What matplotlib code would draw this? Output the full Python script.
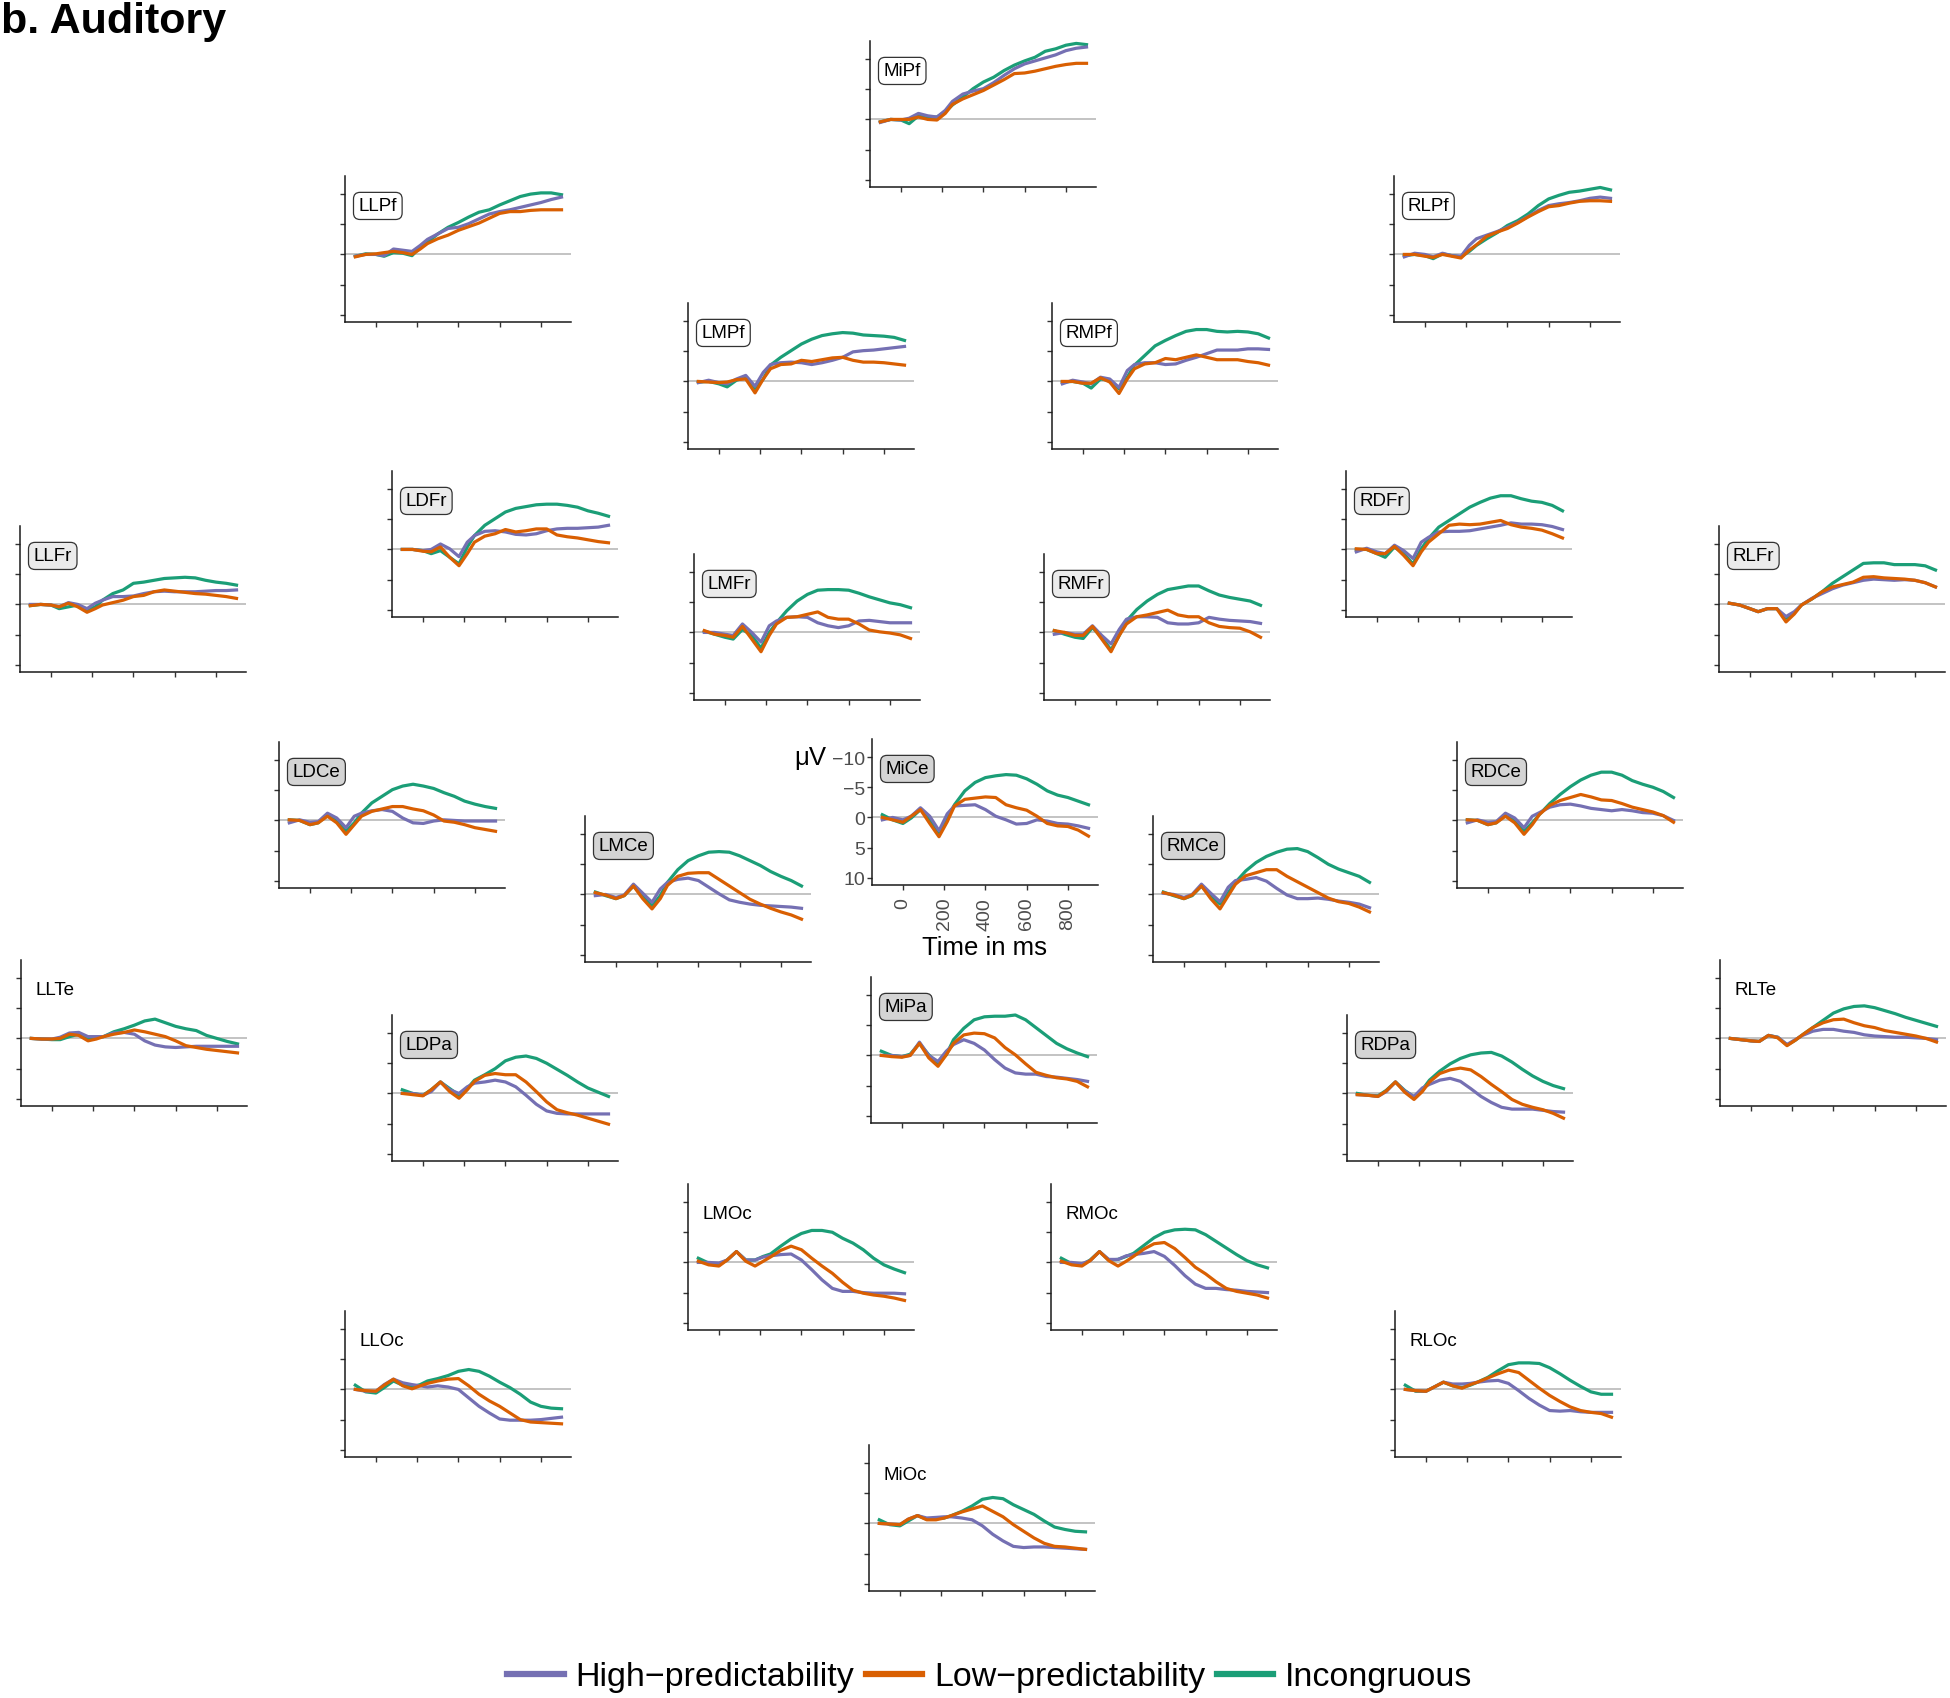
import matplotlib
matplotlib.use("Agg")
import matplotlib.pyplot as plt
from matplotlib.lines import Line2D

plt.rcParams["font.family"] = ["Liberation Sans", "DejaVu Sans"]

# -----------------------------------------------------------------------------
# Data: grand-average ERPs (µV)
# -----------------------------------------------------------------------------
TIME = [-100, -50, 0, 40, 85, 130, 175, 215, 250, 300, 350, 400,
        450, 500, 550, 600, 650, 700, 750, 800, 850, 900]

CONDITIONS = ["High\u2212predictability", "Low\u2212predictability", "Incongruous"]

MiPf_high = [0.5, 0, 0.1, -0.2, -1.0, -0.6, -0.4, -1.5, -3.0, -4.2, -4.7, -5.1, -6.1, -7.3, -8.4, -9.2, -9.7, -10.2, -10.7, -11.4, -11.8, -12.0]
MiPf_low = [0.4, 0, 0, 0, -0.4, 0, 0.1, -1.0, -2.5, -3.4, -4.1, -4.8, -5.7, -6.6, -7.6, -7.7, -8.0, -8.4, -8.8, -9.1, -9.3, -9.3]
MiPf_inc = [0.4, 0, 0.1, 0.7, -0.6, -0.3, -0.4, -1.3, -2.4, -3.7, -5.1, -6.2, -7.0, -8.1, -9.0, -9.7, -10.3, -11.3, -11.7, -12.3, -12.6, -12.4]

LLPf_high = [0.3, 0, 0, 0.2, -0.9, -0.7, -0.5, -1.5, -2.5, -3.4, -4.3, -4.5, -5.1, -5.9, -6.7, -7.1, -7.4, -7.8, -8.2, -8.6, -9.1, -9.5]
LLPf_low = [0.4, 0, -0.1, -0.3, -0.5, -0.3, 0, -0.9, -1.8, -2.6, -3.2, -4.0, -4.6, -5.2, -6.0, -6.8, -7.1, -7.1, -7.3, -7.4, -7.4, -7.4]
LLPf_inc = [0.3, -0.1, 0, 0.3, -0.3, -0.2, 0.2, -1.2, -2.0, -3.4, -4.5, -5.3, -6.2, -7.0, -7.4, -8.2, -8.9, -9.6, -10.0, -10.2, -10.2, -9.9]

RLPf_high = [0.4, -0.2, 0, 0.4, -0.2, 0.2, 0.3, -1.5, -2.6, -3.2, -3.8, -4.5, -5.3, -6.3, -7.3, -8.1, -8.4, -8.6, -8.9, -9.3, -9.5, -9.3]
RLPf_low = [0, 0, 0.3, 0.5, 0, 0.3, 0.6, -0.7, -1.6, -3.0, -3.7, -4.3, -5.2, -6.2, -7.1, -7.9, -8.1, -8.5, -8.8, -8.9, -8.9, -8.8]
RLPf_inc = [0.2, 0, 0.2, 0.7, -0.1, 0.2, 0.4, -0.5, -1.5, -2.6, -3.6, -4.8, -5.6, -6.7, -8.1, -9.2, -9.8, -10.3, -10.5, -10.8, -11.1, -10.7]

LMPf_high = [0.2, -0.2, 0.2, 0.4, -0.4, -1.0, 0.8, -1.5, -2.8, -3.1, -3.2, -3.1, -2.8, -3.1, -3.5, -4.0, -4.9, -5.1, -5.2, -5.4, -5.6, -5.8]
LMPf_low = [0, 0.1, 0.2, 0.1, -0.3, -0.4, 1.9, -0.4, -2.1, -2.8, -2.9, -3.5, -3.3, -3.6, -3.9, -4.0, -3.5, -3.2, -3.2, -3.1, -2.9, -2.7]
LMPf_inc = [0.1, 0, 0.4, 0.9, -0.2, -0.7, 1.2, -0.4, -2.7, -4.0, -5.1, -6.2, -7.0, -7.6, -7.9, -8.1, -8.0, -7.7, -7.6, -7.5, -7.3, -6.8]

RMPf_high = [0.4, -0.2, 0.1, 0.4, -0.7, -0.4, 1.0, -1.8, -2.8, -3.1, -3.1, -2.8, -2.9, -3.5, -4.0, -4.6, -5.2, -5.2, -5.2, -5.4, -5.4, -5.3]
RMPf_low = [0, 0, 0.3, 0.3, -0.6, 0.1, 2.0, -0.4, -2.1, -2.9, -3.1, -3.8, -3.6, -4.0, -4.4, -4.0, -3.6, -3.6, -3.6, -3.3, -3.1, -2.7]
RMPf_inc = [0.1, 0, 0.3, 1.1, -0.4, -0.2, 1.2, -0.7, -2.7, -4.3, -5.9, -6.8, -7.6, -8.3, -8.6, -8.6, -8.3, -8.2, -8.3, -8.2, -7.9, -7.2]

LLFr_high = [0, 0, 0.1, 0.4, -0.3, 0, 0.7, -0.2, -0.7, -1.3, -1.3, -1.4, -1.8, -2.1, -2.2, -2.1, -2.1, -2.1, -2.2, -2.3, -2.3, -2.4]
LLFr_low = [0.2, 0, 0.1, 0.4, -0.2, 0.4, 1.3, 0.7, 0.1, -0.3, -0.7, -1.3, -1.5, -2.1, -2.4, -2.2, -2.0, -1.8, -1.7, -1.5, -1.3, -1.0]
LLFr_inc = [0.2, 0, 0.1, 0.7, 0.4, 0.1, 0.9, 0.4, -0.7, -1.8, -2.4, -3.5, -3.7, -4.0, -4.3, -4.4, -4.5, -4.4, -4.0, -3.7, -3.5, -3.2]

LDFr_high = [0, 0, 0.2, 0, -0.9, -0.1, 1.2, -1.2, -2.3, -3.0, -3.1, -2.9, -2.5, -2.4, -2.6, -3.1, -3.4, -3.5, -3.5, -3.6, -3.7, -4.0]
LDFr_low = [0, 0, 0.3, 0.4, -0.4, 1.3, 2.7, 0.7, -1.2, -2.2, -2.6, -3.3, -2.9, -3.1, -3.4, -3.4, -2.4, -2.1, -1.9, -1.6, -1.3, -1.1]
LDFr_inc = [0, 0, 0.2, 0.7, 0.2, 1.3, 2.4, -0.4, -2.3, -4.0, -5.1, -6.2, -6.8, -7.1, -7.4, -7.5, -7.5, -7.3, -7.0, -6.4, -6.0, -5.5]

RDFr_high = [0.4, -0.2, 0.4, 0.7, -0.7, 0.2, 1.5, -1.2, -2.0, -2.9, -3.0, -3.0, -3.1, -3.4, -3.7, -4.0, -4.4, -4.2, -4.2, -4.1, -3.8, -3.3]
RDFr_low = [-0.1, 0, 0.7, 0.7, -0.5, 1.0, 2.7, 0.4, -1.2, -2.6, -4.0, -4.2, -4.1, -4.2, -4.5, -4.8, -4.1, -3.7, -3.5, -3.2, -2.6, -1.9]
RDFr_inc = [0, 0, 0.7, 1.3, -0.4, 0.7, 2.4, -0.1, -1.8, -3.7, -4.8, -5.9, -7.0, -7.8, -8.5, -8.9, -8.9, -8.4, -8.0, -7.8, -7.3, -6.4]

RLFr_high = [-0.2, 0.1, 0.7, 1.2, 0.7, 0.7, 2.0, 1.2, 0.1, -1.0, -1.8, -2.6, -3.2, -3.6, -4.0, -4.2, -4.1, -4.0, -4.1, -4.0, -3.6, -2.9]
RLFr_low = [-0.2, 0.1, 0.7, 1.2, 0.7, 0.7, 2.9, 1.6, 0.1, -0.9, -2.1, -2.9, -3.3, -3.7, -4.5, -4.6, -4.4, -4.3, -4.2, -4.0, -3.6, -2.9]
RLFr_inc = [-0.2, 0.1, 0.7, 1.2, 0.7, 0.7, 2.3, 1.4, 0.1, -0.9, -2.1, -3.5, -4.6, -5.7, -6.8, -6.9, -6.9, -6.6, -6.6, -6.6, -6.4, -5.7]

LMFr_high = [0, 0, 0.3, 0.5, -1.4, 0, 1.6, -1.1, -1.9, -2.5, -2.6, -2.5, -1.6, -1.1, -0.8, -1.1, -1.9, -2.0, -1.8, -1.6, -1.6, -1.6]
LMFr_low = [-0.3, 0.3, 0.5, 0.8, -1.0, 1.1, 3.2, 0.5, -1.4, -2.5, -2.6, -3.0, -3.4, -2.5, -2.2, -2.2, -1.4, -0.4, -0.1, 0.1, 0.4, 1.0]
LMFr_inc = [-0.2, 0.3, 0.8, 1.1, -0.5, 0.5, 2.6, 0, -1.6, -3.6, -5.2, -6.3, -7.0, -7.1, -7.1, -7.0, -6.5, -5.9, -5.4, -4.9, -4.6, -4.1]

RMFr_high = [0.3, 0, 0.3, 0.3, -1.1, 0.5, 1.9, -0.5, -2.2, -2.6, -2.6, -2.5, -1.6, -1.4, -1.4, -1.6, -2.5, -2.2, -2.0, -1.9, -1.8, -1.5]
RMFr_low = [-0.3, 0, 0.5, 0.5, -1.0, 1.1, 3.2, 0.5, -1.4, -2.6, -2.9, -3.3, -3.7, -2.9, -2.6, -2.6, -1.6, -1.0, -0.8, -0.7, -0.1, 0.8]
RMFr_inc = [-0.3, 0.3, 0.8, 1.0, -0.8, 0.8, 2.9, 0.5, -1.9, -3.8, -5.2, -6.3, -7.1, -7.4, -7.7, -7.7, -6.9, -6.2, -5.8, -5.5, -5.2, -4.5]

LDCe_high = [0.4, -0.1, 0.3, 0.2, -1.2, -0.4, 1.2, -0.7, -1.2, -1.6, -1.8, -1.5, -0.4, 0.4, 0.5, 0.1, -0.1, 0, 0.1, 0.1, 0.1, 0.1]
LDCe_low = [-0.1, 0, 0.7, 0.4, -0.7, 0.4, 2.3, 0.7, -0.7, -1.5, -1.9, -2.3, -2.3, -1.9, -1.6, -0.9, 0.1, 0.3, 0.7, 1.2, 1.5, 1.8]
LDCe_inc = [-0.1, 0, 0.7, 0.4, -0.9, -0.1, 1.8, 0.4, -1.2, -2.9, -4.0, -5.1, -5.7, -6.0, -5.7, -5.3, -4.6, -4.0, -3.2, -2.7, -2.3, -2.0]

RDCe_high = [0.4, -0.1, 0.3, 0.2, -1.2, -0.4, 1.2, -0.7, -1.3, -2.2, -2.6, -2.7, -2.4, -2.0, -1.8, -1.6, -1.8, -1.6, -1.3, -1.2, -0.8, 0.0]
RDCe_low = [-0.1, 0, 0.7, 0.4, -0.7, 0.4, 2.3, 0.7, -1.0, -2.5, -3.3, -3.8, -4.3, -3.9, -3.4, -3.3, -2.8, -2.2, -1.8, -1.4, -0.8, 0.3]
RDCe_inc = [-0.1, 0, 0.7, 0.4, -0.9, -0.1, 1.8, 0.4, -1.0, -2.8, -4.3, -5.6, -6.7, -7.5, -8.0, -8.0, -7.5, -6.6, -6.0, -5.5, -4.8, -3.8]

MiCe_high = [0.4, 0, 0.4, -0.2, -1.6, -0.2, 2.2, -0.6, -1.9, -2.0, -2.1, -1.3, -0.2, 0.4, 1.1, 1.0, 0.4, 0.6, 1.0, 1.1, 1.4, 1.8]
MiCe_low = [0, 0.4, 0.8, -0.2, -1.3, 1.0, 3.2, 0.7, -1.9, -3.0, -3.2, -3.4, -3.3, -2.1, -1.6, -1.2, -0.2, 1.0, 1.4, 1.5, 2.1, 3.1]
MiCe_inc = [-0.45, 0.4, 1.0, 0.1, -1.3, 0.4, 2.6, 0.1, -2.1, -4.4, -5.8, -6.6, -6.9, -7.1, -7.0, -6.4, -5.5, -4.4, -3.7, -3.3, -2.7, -2.1]

LMCe_high = [0.2, 0, 0.5, 0.1, -1.7, -0.2, 1.3, -0.9, -2.0, -2.5, -2.7, -2.3, -1.2, -0.1, 0.9, 1.3, 1.6, 1.8, 1.9, 2.0, 2.1, 2.3]
LMCe_low = [-0.3, 0.1, 0.7, 0.2, -1.4, 0.7, 2.4, 0.7, -1.5, -3.0, -3.5, -3.6, -3.6, -2.5, -1.4, -0.3, 0.8, 1.6, 2.3, 2.9, 3.4, 4.1]
LMCe_inc = [-0.4, 0.2, 0.7, 0.2, -1.4, 0.2, 1.9, 0.2, -2.0, -4.1, -5.6, -6.4, -7.0, -7.1, -7.0, -6.4, -5.6, -4.8, -3.8, -3.0, -2.3, -1.4]

RMCe_high = [-0.2, 0, 0.5, 0, -1.7, -0.2, 1.2, -1.2, -2.3, -2.5, -2.8, -2.2, -1.0, 0.1, 0.7, 0.7, 0.6, 0.8, 1.1, 1.3, 1.6, 2.2]
RMCe_low = [-0.3, 0.1, 0.7, 0.1, -1.4, 0.7, 2.4, 0.2, -1.7, -3.1, -3.6, -4.1, -4.1, -3.0, -2.1, -1.2, -0.3, 0.6, 1.2, 1.5, 2.1, 2.9]
RMCe_inc = [-0.4, 0.2, 0.7, 0.2, -1.4, 0.2, 1.6, -0.3, -2.0, -3.9, -5.3, -6.3, -7.0, -7.5, -7.6, -7.1, -6.1, -5.0, -4.2, -3.6, -3.0, -2.0]

LLTe_high = [0, 0.1, 0.1, -0.2, -0.9, -1.0, -0.3, -0.3, -0.3, -0.9, -1.0, -0.7, 0.4, 1.1, 1.4, 1.5, 1.4, 1.3, 1.3, 1.3, 1.3, 1.3]
LLTe_low = [0, 0.1, 0.1, 0, -0.7, -0.5, 0.4, 0.1, -0.3, -0.7, -1.0, -1.4, -1.1, -0.7, -0.3, 0.4, 1.2, 1.5, 1.8, 2.0, 2.2, 2.4]
LLTe_inc = [0, 0.1, 0.2, 0.2, -0.3, -0.7, 0.1, -0.2, -0.3, -1.1, -1.6, -2.2, -2.9, -3.2, -2.6, -2.0, -1.6, -1.3, -0.5, 0, 0.5, 0.9]

RLTe_high = [0, 0.2, 0.4, 0.5, -0.5, -0.2, 1.0, 0.2, -0.5, -1.2, -1.5, -1.5, -1.2, -1.0, -0.6, -0.4, -0.3, -0.2, -0.2, -0.1, 0, 0.2]
RLTe_low = [0, 0.2, 0.4, 0.5, -0.5, -0.1, 1.2, 0.3, -0.6, -1.8, -2.6, -3.1, -3.2, -2.6, -2.1, -1.8, -1.3, -1.0, -0.7, -0.4, 0, 0.6]
RLTe_inc = [0, 0.2, 0.4, 0.5, -0.5, -0.2, 1.1, 0.3, -0.6, -1.8, -3.0, -4.2, -4.9, -5.3, -5.4, -5.1, -4.6, -4.1, -3.5, -3.0, -2.5, -2.0]

LDPa_high = [0, 0, 0.3, -0.3, -1.9, -0.6, 0, -1.1, -1.7, -1.9, -2.2, -1.9, -1.1, 0.3, 1.8, 2.9, 3.3, 3.4, 3.4, 3.4, 3.4, 3.4]
LDPa_low = [0, 0.2, 0.4, -0.6, -1.9, -0.3, 0.8, -0.6, -2.0, -3.0, -3.3, -3.1, -3.1, -1.9, -0.3, 1.4, 2.7, 3.2, 3.6, 4.1, 4.6, 5.1]
LDPa_inc = [-0.6, 0, 0.3, -0.6, -1.9, -0.8, 0.3, -0.8, -2.2, -3.1, -4.1, -5.4, -6.0, -6.2, -5.8, -5.0, -4.0, -3.0, -1.9, -0.9, -0.2, 0.5]

MiPa_high = [0, 0, 0.2, 0, -2.2, 0, 1.0, -0.7, -1.8, -2.6, -2.0, -0.9, 0.7, 2.1, 2.9, 3.1, 3.1, 3.5, 3.6, 3.8, 4.0, 4.3]
MiPa_low = [0, 0.2, 0.3, 0, -2.0, 0.4, 1.8, -0.1, -2.0, -3.4, -3.7, -3.6, -2.9, -1.3, -0.1, 1.4, 2.8, 3.3, 3.7, 3.9, 4.3, 5.2]
MiPa_inc = [-0.7, 0, 0.2, -0.2, -2.0, -0.1, 1.3, -0.1, -2.6, -4.5, -5.9, -6.4, -6.5, -6.5, -6.7, -5.9, -4.6, -3.3, -2.0, -1.1, -0.4, 0.2]

RDPa_high = [0.2, 0.3, 0.5, -0.3, -1.9, -0.4, 0.5, -0.9, -1.5, -2.2, -2.5, -2.0, -0.8, 0.5, 1.5, 2.3, 2.6, 2.6, 2.6, 2.8, 3.0, 3.1]
RDPa_low = [0.2, 0.3, 0.5, -0.4, -1.9, -0.2, 1.0, -0.3, -1.9, -3.3, -3.9, -4.2, -3.9, -2.8, -1.5, -0.3, 1.0, 1.8, 2.3, 2.7, 3.3, 4.1]
RDPa_inc = [0, 0.3, 0.4, -0.5, -1.9, -0.5, 0.6, -0.6, -2.2, -3.7, -4.9, -5.8, -6.4, -6.7, -6.8, -6.2, -5.2, -4.0, -2.9, -2.0, -1.3, -0.8]

LMOc_high = [0, 0, 0.1, -0.4, -1.8, -0.4, -0.4, -0.9, -1.1, -1.3, -1.4, -0.4, 1.2, 2.9, 4.3, 4.8, 4.8, 5.0, 5.1, 5.1, 5.1, 5.2]
LMOc_low = [-0.2, 0.4, 0.6, -0.4, -1.8, -0.2, 0.6, -0.2, -0.9, -2.0, -2.7, -2.1, -0.7, 0.6, 1.8, 3.3, 4.6, 5.1, 5.4, 5.6, 5.9, 6.3]
LMOc_inc = [-0.7, 0.1, 0.4, -0.4, -1.8, -0.4, -0.4, -1.0, -1.4, -2.7, -3.9, -4.8, -5.3, -5.3, -5.0, -4.0, -3.2, -2.1, -0.7, 0.4, 1.1, 1.7]

RMOc_high = [0, 0, 0.2, -0.3, -1.8, -0.5, -0.5, -1.1, -1.3, -1.5, -1.8, -1.0, 0.5, 2.2, 3.6, 4.3, 4.3, 4.5, 4.6, 4.8, 4.9, 5.0]
RMOc_low = [-0.2, 0.4, 0.6, -0.3, -1.8, -0.3, 0.6, -0.2, -1.0, -2.2, -3.1, -3.3, -2.3, -0.8, 0.8, 1.9, 3.2, 4.3, 4.8, 5.1, 5.4, 5.9]
RMOc_inc = [-0.7, 0.2, 0.4, -0.4, -1.8, -0.4, -0.5, -1.0, -1.5, -2.8, -4.1, -5.0, -5.4, -5.5, -5.4, -4.6, -3.5, -2.4, -1.3, -0.3, 0.4, 0.9]

LLOc_high = [0, 0.3, 0.3, -0.8, -1.7, -1.1, -0.8, -0.6, -0.4, -0.6, -0.4, 0, 1.4, 2.8, 3.9, 4.9, 5.1, 5.1, 5.1, 5.0, 4.8, 4.6]
LLOc_low = [0, 0.2, 0.3, -0.7, -1.7, -0.6, -0.1, -0.6, -1.0, -1.4, -1.7, -1.8, -0.6, 0.8, 1.9, 2.8, 3.9, 5.0, 5.4, 5.5, 5.6, 5.7]
LLOc_inc = [-0.7, 0.4, 0.6, -0.3, -1.4, -0.7, -0.4, -0.8, -1.4, -1.8, -2.3, -3.0, -3.3, -3.0, -2.2, -1.2, -0.3, 0.8, 2.1, 2.8, 3.1, 3.2]

RLOc_high = [0, 0.2, 0.3, -0.4, -1.2, -0.9, -0.9, -1.0, -1.2, -1.4, -1.5, -1.0, 0.2, 1.5, 2.6, 3.5, 3.6, 3.5, 3.7, 3.8, 3.8, 3.8]
RLOc_low = [0, 0.2, 0.3, -0.4, -1.2, -0.6, -0.2, -0.8, -1.2, -1.9, -2.6, -3.2, -2.8, -1.5, -0.2, 1.0, 2.0, 2.9, 3.5, 3.8, 4.0, 4.6]
RLOc_inc = [-0.7, 0.3, 0.3, -0.4, -1.2, -0.6, -0.3, -0.7, -1.2, -2.0, -3.1, -4.1, -4.4, -4.4, -4.3, -3.6, -2.6, -1.5, -0.5, 0.4, 0.8, 0.8]

MiOc_high = [0, 0.1, 0.2, -0.7, -1.3, -0.9, -1.0, -1.1, -1.1, -0.9, -0.6, 0.4, 1.8, 2.9, 3.8, 4.0, 3.9, 3.9, 4.0, 4.1, 4.2, 4.3]
MiOc_low = [0, 0.1, 0.2, -0.7, -1.3, -0.6, -0.6, -0.9, -1.3, -1.9, -2.4, -2.9, -2.0, -1.1, 0.2, 1.3, 2.4, 3.3, 3.8, 3.9, 4.1, 4.3]
MiOc_inc = [-0.6, 0.2, 0.4, -0.4, -1.3, -0.7, -0.8, -0.9, -1.3, -2.0, -2.9, -4.0, -4.3, -4.1, -3.1, -2.3, -1.5, -0.4, 0.6, 1.0, 1.3, 1.4]

ERPS = {
    "MiPf": (MiPf_high, MiPf_low, MiPf_inc),
    "LLPf": (LLPf_high, LLPf_low, LLPf_inc),
    "RLPf": (RLPf_high, RLPf_low, RLPf_inc),
    "LMPf": (LMPf_high, LMPf_low, LMPf_inc),
    "RMPf": (RMPf_high, RMPf_low, RMPf_inc),
    "LLFr": (LLFr_high, LLFr_low, LLFr_inc),
    "LDFr": (LDFr_high, LDFr_low, LDFr_inc),
    "RDFr": (RDFr_high, RDFr_low, RDFr_inc),
    "RLFr": (RLFr_high, RLFr_low, RLFr_inc),
    "LMFr": (LMFr_high, LMFr_low, LMFr_inc),
    "RMFr": (RMFr_high, RMFr_low, RMFr_inc),
    "LDCe": (LDCe_high, LDCe_low, LDCe_inc),
    "RDCe": (RDCe_high, RDCe_low, RDCe_inc),
    "MiCe": (MiCe_high, MiCe_low, MiCe_inc),
    "LMCe": (LMCe_high, LMCe_low, LMCe_inc),
    "RMCe": (RMCe_high, RMCe_low, RMCe_inc),
    "LLTe": (LLTe_high, LLTe_low, LLTe_inc),
    "RLTe": (RLTe_high, RLTe_low, RLTe_inc),
    "LDPa": (LDPa_high, LDPa_low, LDPa_inc),
    "MiPa": (MiPa_high, MiPa_low, MiPa_inc),
    "RDPa": (RDPa_high, RDPa_low, RDPa_inc),
    "LMOc": (LMOc_high, LMOc_low, LMOc_inc),
    "RMOc": (RMOc_high, RMOc_low, RMOc_inc),
    "LLOc": (LLOc_high, LLOc_low, LLOc_inc),
    "RLOc": (RLOc_high, RLOc_low, RLOc_inc),
    "MiOc": (MiOc_high, MiOc_low, MiOc_inc),
}

# -----------------------------------------------------------------------------
# Layout: (left spine x, bottom spine y) of every panel, in pixels
# -----------------------------------------------------------------------------
W, H = 1950, 1699
PW, PH = 226, 146
POS = {
    "MiPf": (870, 188),
    "LLPf": (345, 323), "RLPf": (1394, 323),
    "LMPf": (688, 450), "RMPf": (1052, 450),
    "LDFr": (392, 618), "RDFr": (1346, 618),
    "LLFr": (20, 673), "RLFr": (1719, 673),
    "LMFr": (694, 701), "RMFr": (1044, 701),
    "LDCe": (279, 889), "RDCe": (1457, 889),
    "MiCe": (872, 886),
    "LMCe": (585, 963), "RMCe": (1153, 963),
    "LLTe": (21, 1107), "RLTe": (1720, 1107),
    "LDPa": (392, 1162), "RDPa": (1347, 1162),
    "MiPa": (871, 1124),
    "LMOc": (688, 1331), "RMOc": (1051, 1331),
    "LLOc": (345, 1458), "RLOc": (1395, 1458),
    "MiOc": (869, 1592),
}

COLORS = ["#7570b3", "#d95f02", "#1b9e77"]
BOX_FILL = {"Pf": "white", "Fr": "#ebebeb", "Ce": "#d4d4d4", "Pa": "#d4d4d4"}
AXIS = "#1a1a1a"
TICKLAB = "#4d4d4d"

fig = plt.figure(figsize=(W / 100, H / 100), dpi=100)

for name, (lx, by) in POS.items():
    ax = fig.add_axes([lx / W, 1 - by / H, PW / W, PH / H])
    ax.patch.set_alpha(0)
    ax.axhline(0, color="#b3b3b3", lw=1.1, zorder=1)
    hi, lo, inc = ERPS[name]
    # incongruous underneath, then high, then low
    for vals, col in ((inc, COLORS[2]), (hi, COLORS[0]), (lo, COLORS[1])):
        ax.plot(TIME, vals, color=col, lw=2.3, solid_joinstyle="round", zorder=2)
    ax.set_xlim(-150, 946)
    ax.set_ylim(11.2, -13.0)
    ax.set_xticks([0, 200, 400, 600, 800])
    ax.set_yticks([-10, -5, 0, 5, 10])
    for s in ("top", "right"):
        ax.spines[s].set_visible(False)
    for s in ("left", "bottom"):
        ax.spines[s].set_color(AXIS)
        ax.spines[s].set_linewidth(1.1)
    ax.tick_params(direction="out", length=3.5, width=1.0, color="#333333",
                   labelcolor=TICKLAB, labelsize=14, pad=1.5)

    if name == "MiCe":
        ax.set_yticklabels(["\u221210", "\u22125", "0", "5", "10"])
        ax.set_xticklabels(["0", "200", "400", "600", "800"], rotation=90)
        ax.tick_params(axis="x", pad=5)
        ax.set_xlabel("Time in ms", fontsize=18.5, labelpad=4, color="black")
    else:
        ax.tick_params(labelbottom=False, labelleft=False)

    fill = BOX_FILL.get(name[2:])
    if fill is not None:
        ax.text(0.06, 0.795, name, transform=ax.transAxes, fontsize=13.5,
                ha="left", va="center", color="black", zorder=5,
                bbox=dict(boxstyle="round,pad=0.27,rounding_size=0.35",
                          fc=fill, ec="#333333", lw=0.9))
    else:
        ax.text(0.065, 0.795, name, transform=ax.transAxes, fontsize=13.5,
                ha="left", va="center", color="black", zorder=5)

fig.text(826 / W, 1 - 765 / H, "\u03bcV", fontsize=18.5, ha="right", va="baseline")

fig.text(1 / W, 1 - 33 / H, "b. Auditory", fontsize=31, fontweight="bold",
         ha="left", va="baseline")

handles = [Line2D([0], [0], color=c, lw=4.5) for c in COLORS]
fig.legend(handles, CONDITIONS, loc="center", ncol=3, frameon=False,
           bbox_to_anchor=(990 / W, 1 - 1678 / H), fontsize=24.5,
           handlelength=1.65, handletextpad=0.35, columnspacing=0.35)

fig.savefig("out.png", dpi=100)
